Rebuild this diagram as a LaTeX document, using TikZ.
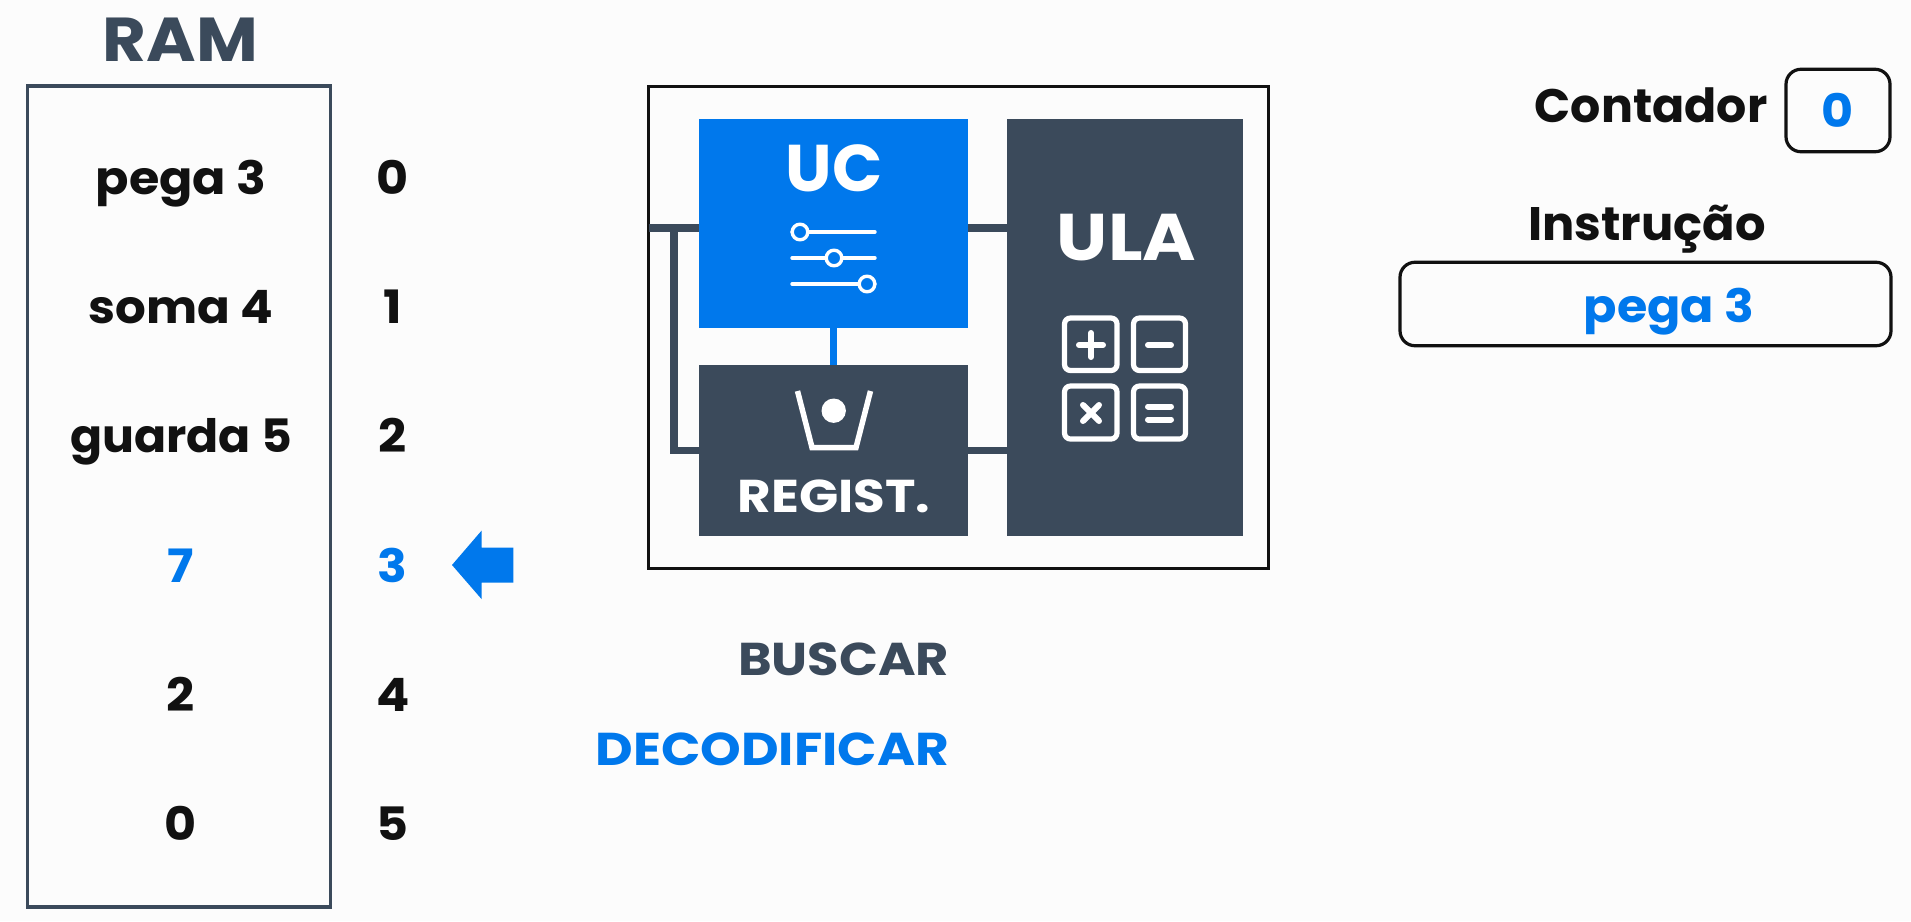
\documentclass[tikz,border=0pt]{standalone}
\usepackage{fontspec}
\setmainfont{Poppins}[BoldFont={Poppins Bold}]
\definecolor{bluec}{HTML}{0078EC}
\definecolor{slatec}{HTML}{3B4A5B}
\definecolor{inkc}{HTML}{111111}
\definecolor{paperc}{HTML}{FCFCFC}
\tikzset{
  txt/.style={anchor=base,inner sep=0pt,outer sep=0pt,font=\bfseries\fontsize{#1}{#1}\selectfont},
  txt/.default=46,
  wider/.style={transform shape,xscale=#1},
  panel/.style={rectangle,inner sep=0pt,outer sep=0pt,fill=slatec},
  bus/.style={draw=slatec,line width=7.5pt},
  icon/.style={draw=white,line width=3.4pt,line cap=round,line join=round},
  calc/.style={draw=white,line width=5.2pt,rounded corners=6pt},
  calcsym/.style={draw=white,line width=6pt,line cap=round},
  outline/.style={rectangle,draw=#1,line width=3.2pt,inner sep=0pt,outer sep=0pt},
}
\begin{document}
\begin{tikzpicture}[x=1pt,y=-1pt]
\useasboundingbox (0,0) rectangle (1911,921);
\fill[paperc] (0,0) rectangle (1911,921);

% RAM
\node[txt=62,text=slatec,wider=1.085] (ramtitle) at (180.5,61.5) {RAM};
\node[outline=slatec,minimum width=303pt,minimum height=821pt] (ram) at (179,496.5) {};
\node[txt,text=inkc,wider=1.07] (c0) at (181,194) {pega 3};
\node[txt,text=inkc,wider=1.05] (c1) at (181,323) {soma 4};
\node[txt,text=inkc,wider=1.03] (c2) at (181,452.5) {guarda 5};
\node[txt,text=bluec,wider=1.07] (c3) at (181,582) {7};
\node[txt,text=inkc,wider=1.07] (c4) at (181,711.5) {2};
\node[txt,text=inkc,wider=1.07] (c5) at (181,840) {0};
\node[txt,text=inkc,wider=1.07] (a0) at (392.5,194) {0};
\node[txt,text=inkc,wider=1.07] (a1) at (392.5,323) {1};
\node[txt,text=inkc,wider=1.07] (a2) at (392.5,452.5) {2};
\node[txt,text=bluec,wider=1.07] (a3) at (392.5,582) {3};
\node[txt,text=inkc,wider=1.07] (a4) at (393.5,711.5) {4};
\node[txt,text=inkc,wider=1.07] (a5) at (392.5,840) {5};
\fill[bluec] (452,565) -- (481.5,530.7) -- (481.5,547.7) -- (513.4,547.7) -- (513.4,582.7) -- (481.5,582.7) -- (481.5,599) -- cycle;

% CPU frame and blocks
\node[outline=inkc,minimum width=620pt,minimum height=481.5pt] (cpu) at (958.5,327.5) {};
\node[panel,fill=bluec,minimum width=269.8pt,minimum height=209.3pt] (uc) at (833.5,223.3) {};
\node[panel,minimum width=269.8pt,minimum height=171.3pt] (reg) at (833.5,450.3) {};
\node[panel,minimum width=236.1pt,minimum height=417.1pt] (ula) at (1124.7,327.2) {};

% Connectors
\coordinate (bustop) at (0,228);
\coordinate (busbot) at (0,450.5);
\coordinate (branch) at (674,228);
\draw[bus] (cpu.west |- bustop) -- (uc.west |- bustop);
\draw[bus] (uc.east |- bustop) -- (ula.west |- bustop);
\draw[bus] (reg.east |- busbot) -- (ula.west |- busbot);
\draw[bus,line join=miter] (branch) |- (reg.west |- busbot);
\draw[draw=bluec,line width=7.5pt] (uc.south) -- (reg.north);

% UC
\node[txt=66,text=white] (uclabel) at (834,191) {UC};
\foreach \yy/\xx in {232/800,258/834,284/867}{
  \draw[icon] (792,\yy) -- (875,\yy);
  \filldraw[icon,fill=bluec] (\xx,\yy) circle (7.8pt);
}
% ULA
\node[txt=66,text=white,wider=1.1] (ulalabel) at (1126.5,260) {ULA};
\draw[calc] (1064.5,318) rectangle (1117,370.5);
\draw[calc] (1133.5,318) rectangle (1185.5,370.5);
\draw[calc] (1064.5,386) rectangle (1117,439);
\draw[calc] (1133.5,386) rectangle (1185.5,439);
\draw[calcsym] (1079,345) -- (1103,345) (1091,333) -- (1091,357);
\draw[calcsym] (1148,345) -- (1171,345);
\draw[calcsym] (1083,405) -- (1099,421) (1099,405) -- (1083,421);
\draw[calcsym] (1148,406.5) -- (1171,406.5) (1148,419.5) -- (1171,419.5);
% Register
\draw[draw=white,line width=5.5pt,line join=miter] (797.5,391) -- (812,447.5) -- (856,447.5) -- (870.5,391);
\fill[white] (833.7,410.7) circle (12.2pt);
\node[txt=46,text=white,wider=1.12] (reglabel) at (834,512.5) {REGIST.};

% Phases
\node[txt=46,text=slatec,anchor=base east,wider=1.11] (buscar) at (949,675) {BUSCAR};
\node[txt=46,text=bluec,anchor=base east,wider=1.125] (decod) at (949,765) {DECODIFICAR};

% Right side
\node[txt=47,text=inkc,anchor=base east,wider=1.01] (contador) at (1767.5,122) {Contador};
\node[outline=inkc,rounded corners=15pt,minimum width=104pt,minimum height=82.5pt] (cbox) at (1838,110.5) {};
\node[txt,text=bluec,wider=1.07] (cval) at (cbox.center |- 0,127) {0};
\node[txt=47,text=inkc,wider=1.02] (instr) at (1647,240) {Instrução};
\node[outline=inkc,rounded corners=15pt,minimum width=491pt,minimum height=83.5pt] (ibox) at (1645.5,304) {};
\node[txt,text=bluec,wider=1.07] (ival) at (1669,322) {pega 3};
\end{tikzpicture}
\end{document}
